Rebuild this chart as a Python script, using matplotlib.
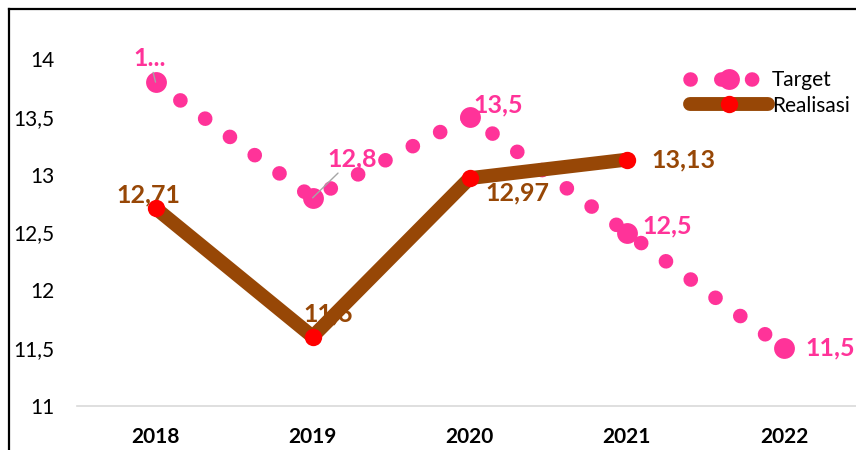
import matplotlib.pyplot as plt
from matplotlib.lines import Line2D

tahun = ['2018', '2019', '2020', '2021', '2022']
target = [13.8, 12.8, 13.5, 12.5, 11.5]
realisasi = [12.71, 11.6, 12.97, 13.13]
label_target = ['1...', '12,8', '13,5', '12,5', '11,5']
label_realisasi = ['12,71', '11,6', '12,97', '13,13']

pink = '#FF3399'
coklat = '#974706'

plt.rcParams['font.family'] = ['Lato', 'DejaVu Sans']

fig = plt.figure(figsize=(8.56, 4.5), dpi=100)
W, H = 856, 450
# area plot: x dari 77 sampai 862 px, y 11 di 406 px, 14 di 59 px
ax = fig.add_axes([77 / W, 44 / H, 785.5 / W, 347 / H])

x = list(range(len(tahun)))

#garis target titik-titik
ax.plot(x, target, color=pink, linewidth=10.5, linestyle=(0, (0.01, 2.1)),
        dash_capstyle='round', marker='o', markersize=15, markeredgewidth=0,
        label='Target', zorder=2, clip_on=False)

#garis realisasi tebal
ax.plot(x[:len(realisasi)], realisasi, color=coklat, linewidth=10,
        solid_capstyle='round', marker='o', markersize=12.5, markerfacecolor='red',
        markeredgewidth=0, label='Realisasi', zorder=3, clip_on=False)

ax.set_xlim(-0.5, 4.5)
ax.set_ylim(11, 14)
ax.set_yticks([11, 11.5, 12, 12.5, 13, 13.5, 14])
ax.set_yticklabels(['11', '11,5', '12', '12,5', '13', '13,5', '14'], fontsize=15)
ax.set_xticks(x)
ax.set_xticklabels(tahun, fontsize=15, fontweight='bold')
ax.tick_params(length=0, pad=16, axis='y')
ax.tick_params(length=0, pad=15, axis='x')

for s in ['top', 'right', 'left']:
    ax.spines[s].set_visible(False)
ax.spines['bottom'].set_color('#d9d9d9')
ax.spines['bottom'].set_linewidth(1.2)

#label data target (offset dalam piksel)
off_target = [(-6, 24), (40, 39), (28, 12), (40, 7), (46, 0)]
for i, (lab, off) in enumerate(zip(label_target, off_target)):
    arrow = None
    if i in (0, 1):
        arrow = dict(arrowstyle='-', color='#a6a6a6', lw=1, shrinkA=0, shrinkB=0)
    ax.annotate(lab, (x[i], target[i]), xytext=off, textcoords='offset pixels',
                ha='center', va='center', color=pink, fontsize=18,
                fontweight='bold', arrowprops=arrow, zorder=4,
                annotation_clip=False)

#label data realisasi
off_real = [(-7, 13), (16, 23), (48, -15), (57, 0)]
for i, (lab, off) in enumerate(zip(label_realisasi, off_real)):
    ax.annotate(lab, (x[i], realisasi[i]), xytext=off, textcoords='offset pixels',
                ha='center', va='center', color=coklat, fontsize=18,
                fontweight='bold', zorder=1, annotation_clip=False)

ax.legend(loc='upper right', bbox_to_anchor=(0.994, 0.991), frameon=False,
          fontsize=15, handlelength=3.7, handletextpad=0.2, labelspacing=0.25,
          borderaxespad=0)

#bingkai hitam kiri dan atas
fig.add_artist(Line2D([9 / W, 9 / W], [0, 1 - 9 / H], color='black', lw=1.6,
                      transform=fig.transFigure))
fig.add_artist(Line2D([9 / W, 1], [1 - 9 / H, 1 - 9 / H], color='black', lw=1.6,
                      transform=fig.transFigure))

plt.savefig('out.png', dpi=100)
